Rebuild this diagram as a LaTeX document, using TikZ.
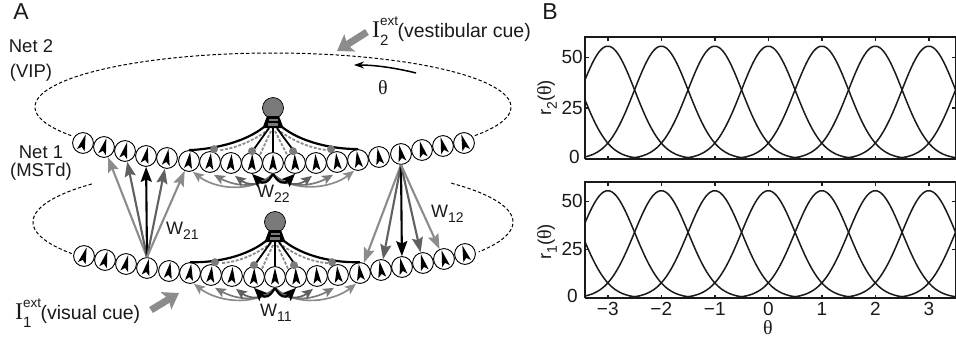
\documentclass[tikz,border=0pt]{standalone}
\usepackage{fontspec}
\setmainfont{Liberation Sans}
\newfontfamily\grk{Liberation Serif}
\usetikzlibrary{arrows.meta,calc}
\definecolor{ink}{HTML}{1A1A1A}
\definecolor{gA}{HTML}{8C8C8C}
\definecolor{gB}{HTML}{606060}
\definecolor{gC}{HTML}{7A7A7A}
\newcommand\fs[1]{\fontsize{#1}{#1}\selectfont}
\newcommand\sbs[1]{\raisebox{-.3em}{\fs{14}#1}}
\newcommand\Iext[1]{{\grk\fs{24}I}\rlap{\raisebox{.62em}{\fs{13.5}ext}}\raisebox{-.42em}{\fs{15}#1}\hspace{9pt}}
\tikzset{
 cell/.style={circle,draw=black,line width=.9pt,minimum size=20.8pt,inner sep=0pt,fill=white},
 soma/.style={circle,draw=black,line width=.7pt,fill=gC,minimum size=21pt,inner sep=0pt},
 gdot/.style={circle,fill=gC,minimum size=8pt,inner sep=0pt},
 lab/.style={text=ink,inner sep=0pt,font=\fs{18.5}},
 tick/.style={text=ink,inner sep=0pt,font=\fs{19}},
 ring/.style={line width=1pt,dash pattern=on 3.4pt off 2.2pt,black},
 exc/.style={line width=2.2pt,black},
 excthin/.style={line width=1.8pt,black},
 inh/.style={line width=1.8pt,gA,dash pattern=on 3pt off 1.6pt},
 lat/.style={line width=1.7pt,-{Stealth[length=11pt,width=9.5pt,inset=2.5pt]}},
 ff/.style={line width=2.1pt,-{Stealth[length=15pt,width=11pt,inset=2.5pt]}},
 cue/.style={line width=7pt,gA,-{Stealth[length=15pt,width=20pt,inset=3pt]}},
 axisline/.style={line width=1.4pt,ink},
 curve/.style={line width=1.5pt,ink},
}
\newcommand\netrow[2]{%
 \foreach \i/\px/\py in {#2}{
  \node[cell] (#1\i) at (\px,\py) {};
  \pgfmathsetmacro\rr{(\px-273)*.09}
  \begin{scope}[shift={(\px,\py)},rotate=\rr]
   \fill[black] (0,-9)--(4,7.5)--(0,4)--(-4,7.5)--cycle;
  \end{scope}
 }}
\newcommand\fan[1]{%
 \node[soma] (#1s) at ($(#110)+(0,-55)$) {};
 \coordinate (#1bl) at ($(#1s)+(-9,19)$);
 \coordinate (#1br) at ($(#1s)+(9,19)$);
 \coordinate (#1bc) at ($(#1s)+(0,20)$);
 \fill[black] ($(#1s)+(-6,8)$)--($(#1s)+(6,8)$)--($(#1s)+(10.5,20)$)--($(#1s)+(-10.5,20)$)--cycle;
 \fill[gC] ($(#1s)+(-4.5,11)$) rectangle ($(#1s)+(4.5,13)$);
 \fill[gC] ($(#1s)+(-5,15)$) rectangle ($(#1s)+(5,18)$);
 % inhibitory dashed
 \draw[inh] ($(#1bc)+(-4,1)$) .. controls ($(#1bc)+(-18,12)$) and ($(#1bc)+(-36,20)$) .. ($(#17.north)+(10,-1)$);
 \draw[inh] ($(#1bc)+(4,1)$) .. controls ($(#1bc)+(18,12)$) and ($(#1bc)+(36,20)$) .. ($(#113.north)+(-10,-1)$);
 \draw[inh] ($(#1bc)+(-2,3)$) -- (#19.north east);
 \draw[inh] ($(#1bc)+(2,3)$) -- (#111.north west);
 % excitatory
 \draw[exc] (#1bl) .. controls ($(#1bl)+(-19,15)$) and ($(#1bl)+(-49,22)$) .. (#16.north);
 \draw[exc] (#1br) .. controls ($(#1br)+(19,15)$) and ($(#1br)+(49,22)$) .. (#114.north);
 \draw[excthin] ($(#1bc)+(-4,0)$) .. controls ($(#1bc)+(-11,10)$) and ($(#1bc)+(-17,18)$) .. (#19.north);
 \draw[excthin] ($(#1bc)+(4,0)$) .. controls ($(#1bc)+(11,10)$) and ($(#1bc)+(17,18)$) .. (#111.north);
 \draw[excthin] (#1bc) -- (#110.north);
 \node[gdot] (#1da) at ($(#17.north)+(4,-2)$) {};
 \node[gdot] (#1db) at ($(#19.north)+(0,-1)$) {};
 \node[gdot] (#1dc) at ($(#111.north)+(-2,-1)$) {};
 \node[gdot] (#1dd) at ($(#113.north)+(-6,-2)$) {};
 % lateral arcs
 \draw[lat,gA] (#110.south) .. controls ($(#110.south)+(-22,20)$) and ($(#16.south)+(26,17)$) .. ($(#16.south)+(4,0)$);
 \draw[lat,gA] (#110.south) .. controls ($(#110.south)+(22,20)$) and ($(#114.south)+(-26,17)$) .. ($(#114.south)+(-4,0)$);
 \draw[lat,gC] (#110.south) .. controls ($(#110.south)+(-15,16)$) and ($(#17.south)+(24,13)$) .. ($(#17.south)+(4,2)$);
 \draw[lat,gC] (#110.south) .. controls ($(#110.south)+(15,16)$) and ($(#113.south)+(-24,13)$) .. ($(#113.south)+(-4,2)$);
 \draw[lat,gB] (#110.south) .. controls ($(#110.south)+(-12,14)$) and ($(#18.south)+(16,11)$) .. ($(#18.south)+(4,2)$);
 \draw[lat,gB] (#110.south) .. controls ($(#110.south)+(12,14)$) and ($(#112.south)+(-16,11)$) .. ($(#112.south)+(-4,2)$);
 \draw[line width=2.2pt,black,-{Stealth[length=13pt,width=11pt,inset=2.5pt]}] (#110.south) .. controls ($(#110.south)+(-5,9)$) and ($(#19.south)+(11,11)$) .. (#19.south);
 \draw[line width=2.2pt,black,-{Stealth[length=13pt,width=11pt,inset=2.5pt]}] (#110.south) .. controls ($(#110.south)+(5,9)$) and ($(#111.south)+(-11,11)$) .. (#111.south);
}
\newcommand\panel[4]{% #1 top y, #2 bottom y, #3 name, #4 xlabels flag
 \pgfmathsetmacro\sc{(#2-#1)/60}
 \begin{scope}
  \clip (585,#1) rectangle (956,#2);
  \foreach \p in {-4,-3,-2,-1,0,1,2,3,4}{
   \draw[curve] plot[domain=\p-1.6:\p+1.6,samples=50,smooth] ({768.3+53.5*\x},{#2-\sc*55.5*exp(0-(\x-(\p))*(\x-(\p))/0.51)});
  }
 \end{scope}
 \foreach \t in {-3,-2,-1,0,1,2,3}{
  \draw[axisline] ({768.3+53.5*\t},#1) -- ++(0,3.5);
  \draw[axisline] ({768.3+53.5*\t},#2) -- ++(0,-3.5);
 }
 \foreach \v in {25,50}{
  \draw[axisline] (585,{#2-\sc*\v}) -- ++(3.5,0);
  \draw[axisline] (955.5,{#2-\sc*\v}) -- ++(-3.5,0);
 }
 \draw[axisline] (585,#2) -- (585,#1) -- (955.5,#1) -- (955.5,#2);
 \draw[line width=2pt,ink] (584.5,#2) -- (955.5,#2);
}
\begin{document}
\begin{tikzpicture}[x=1pt,y=-1pt]
\useasboundingbox (0,0) rectangle (956,343);
% dashed rings
\draw[ring] plot[domain=-32:212,samples=120,smooth] ({273+238*cos(\x)},{107-54*sin(\x)});
\draw[ring] plot[domain=42:-31,samples=40,smooth] ({273+240*cos(\x)},{222-58*sin(\x)});
\draw[ring] plot[domain=139:213,samples=40,smooth] ({273+240*cos(\x)},{222-58*sin(\x)});
% rows
\netrow{u}{1/83/143,2/104/147,3/125/151,4/146/156,5/167/158,6/189/161,7/210/162,8/231/163,9/252/163,10/273/163,11/295/163,12/316/163,13/337/162,14/358/160,15/379/157,16/401/154,17/422/150,18/443/146,19/464/143}
\netrow{l}{1/84/256,2/105/260,3/126/264,4/147/268,5/169/271,6/190/273,7/211/275,8/232/276,9/254/277,10/275/277,11/296/277,12/317/276,13/338/275,14/360/273,15/381/270,16/402/267,17/423/263,18/444/259,19/465/254}
\fan{u}
\fan{l}
% feed-forward fans
\draw[ff,gA] (l4.north) -- (u2);
\draw[ff,gB] (l4.north) -- (u3);
\draw[ff,black] (l4.north) -- (u4);
\draw[ff,gB] (l4.north) -- (u5);
\draw[ff,gA] (l4.north) -- (u6);
\draw[ff,gA] (u16.south) -- (l14);
\draw[ff,gB] (u16.south) -- (l15);
\draw[ff,black] (u16.south) -- (l16);
\draw[ff,gB] (u16.south) -- (l17);
\draw[ff,gA] (u16.south) -- (l18);
% labels
\node[text=ink,inner sep=0pt,font=\fs{23}] (tA) at (21,12) {A};
\node[lab] (tn2) at (31,46) {Net 2};
\node[lab] (tv) at (31,73) {(VIP)};
\node[lab] (tn1) at (41,152) {Net 1};
\node[lab] (tm) at (41,172) {(MSTd)};
\node[lab,anchor=west,font=\fs{18}] (w22) at (257,194) {W\sbs{22}};
\node[lab,anchor=west,font=\fs{18}] (w11) at (260,313) {W\sbs{11}};
\node[lab,anchor=west,font=\fs{18}] (w21) at (166,231) {W\sbs{21}};
\node[lab,anchor=west,font=\fs{18}] (w12) at (431,214) {W\sbs{12}};
\node[lab,anchor=west,font=\fs{19.5}] (ci2) at (372,31) {\Iext{2}(vestibular cue)};
\node[lab,anchor=west,font=\fs{19.5}] (ci1) at (15,313) {\Iext{1}(visual cue)};
\coordinate (c2a) at (367,32);
\coordinate (c2b) at (337,51);
\coordinate (c1a) at (151,310);
\coordinate (c1b) at (179,293);
\draw[cue] (c2a) -- (c2b);
\draw[cue] (c1a) -- (c1b);
\coordinate (tha) at (416,73);
\coordinate (thb) at (354,65);
\draw[line width=1.5pt,black,-{Stealth[length=10pt,width=7pt]}] (tha) .. controls (396,68) and (375,65) .. (thb);
\node[lab,font=\grk\fs{20}] (th) at (383,88) {θ};
% panel B
\node[text=ink,inner sep=0pt,font=\fs{23}] (tB) at (550,12) {B};
\panel{37}{159}{a}{0}
\panel{182}{298}{b}{1}
\node[tick,anchor=east] (a50) at (583,57) {50};
\node[tick,anchor=east] (a25) at (583,108) {25};
\node[tick,anchor=east] (a0) at (580,157) {0};
\node[tick,anchor=east] (b50) at (583,201) {50};
\node[tick,anchor=east] (b25) at (583,249) {25};
\node[tick,anchor=east] (b0) at (578,296) {0};
\foreach \t/\s in {-3/−3,-2/−2,-1/−1,0/0,1/1,2/2,3/3}{
 \node[tick] (x\t) at ({768.3+53.5*\t},309) {\s};
}
\node[lab,font=\grk\fs{20}] (xl) at (768,328) {θ};
\node[lab,rotate=90] (yl2) at (547,98) {r\sbs{2}({\grk\fs{20}θ})};
\node[lab,rotate=90] (yl1) at (547,242) {r\sbs{1}({\grk\fs{20}θ})};
\end{tikzpicture}
\end{document}
